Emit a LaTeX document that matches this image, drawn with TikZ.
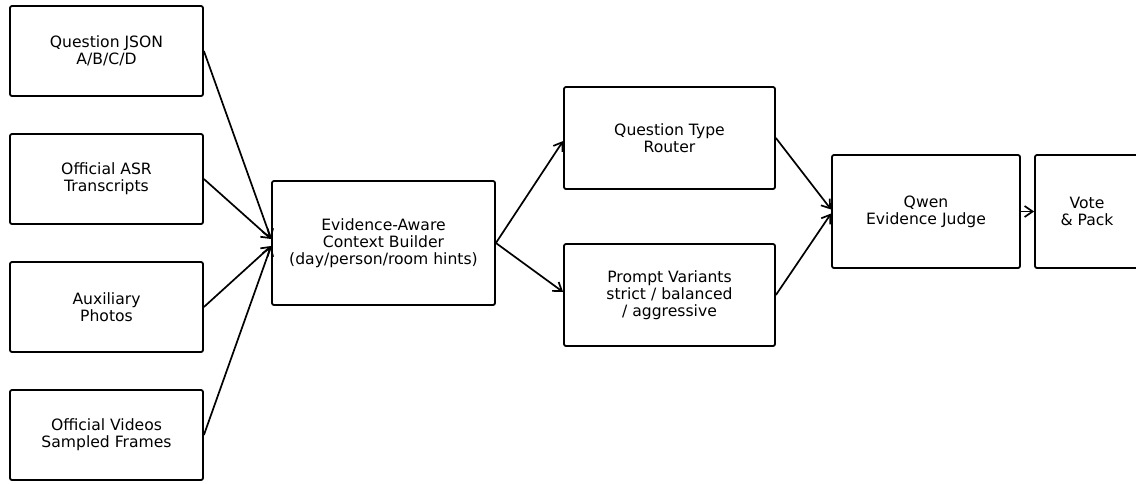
\documentclass[tikz,border=0pt]{standalone}
\usepackage{fontspec}
\setmainfont{DejaVu Sans}
\usetikzlibrary{arrows.meta}

\tikzset{
  stagebox/.style={draw, line width=1.8pt, rounded corners=2pt, align=center,
    inner sep=0pt, font=\fontsize{15.6}{17}\selectfont},
  flow/.style={line width=1.7pt, -{Straight Barb[length=8pt,width=11pt,line width=1.7pt]}}
}

\begin{document}
\begin{tikzpicture}[x=1pt, y=-1pt]
  \useasboundingbox (0,0) rectangle (1136,483);

  % Input sources
  \node[stagebox, minimum width=193pt, minimum height=90pt] (qjson) at (106.5,51) {Question JSON\\A/B/C/D};
  \node[stagebox, minimum width=193pt, minimum height=90pt] (asr) at (106.5,179) {Official ASR\\Transcripts};
  \node[stagebox, minimum width=193pt, minimum height=90pt] (photos) at (106.5,307) {Auxiliary\\Photos};
  \node[stagebox, minimum width=193pt, minimum height=90pt] (videos) at (106.5,435) {Official Videos\\Sampled Frames};

  % Context and prompting
  \node[stagebox, minimum width=223pt, minimum height=124pt] (ctx) at (383.5,243) {Evidence-Aware\\Context Builder\\(day/person/room hints)};
  \node[stagebox, minimum width=211pt, minimum height=102pt] (router) at (669.5,138) {Question Type\\Router};
  \node[stagebox, minimum width=211pt, minimum height=102pt] (variants) at (669.5,295) {Prompt Variants\\strict / balanced\\/ aggressive};

  % Judge and output
  \node[stagebox, minimum width=188pt, minimum height=113pt] (judge) at (926,211.5) {Qwen\\Evidence Judge};
  \node[stagebox, minimum width=104pt, minimum height=113pt] (vote) at (1087,211.5) {Vote\\\& Pack};

  % Connectors
  \foreach \src/\dy in {qjson/4pt, asr/4pt, photos/-3pt, videos/-3pt}
    \draw[flow] (\src.east) -- ([yshift=\dy]ctx.west);
  \draw[flow] (ctx.east) -- ([yshift=-3pt]router.west);
  \draw[flow] (ctx.east) -- ([yshift=3pt]variants.west);
  \draw[flow] (router.east) -- ([yshift=2pt]judge.west);
  \draw[flow] (variants.east) -- ([yshift=-2pt]judge.west);
  \draw[flow] (judge) -- (vote);
\end{tikzpicture}
\end{document}
